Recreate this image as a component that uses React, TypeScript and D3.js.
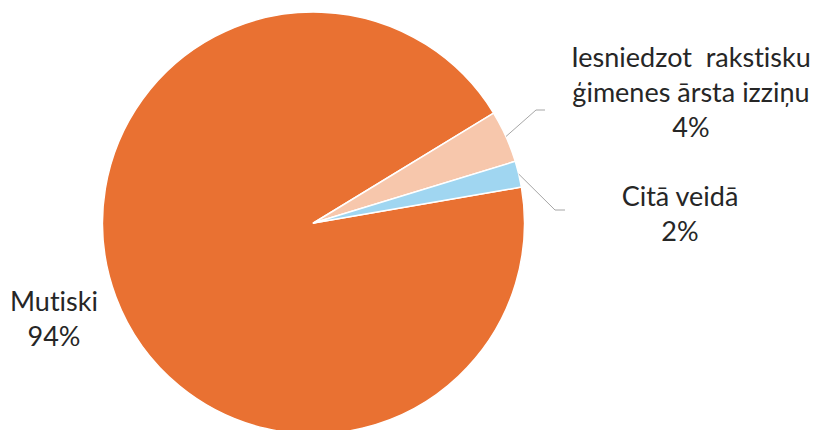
import React from "react";
import * as d3 from "d3";

const categories = ["Mutiski", "Iesniedzot  rakstisku|ģimenes ārsta izziņu", "Citā veidā"];
const values = [94, 4, 2];
const percentLabels = ["94%", "4%", "2%"];
const colors = ["#E97132", "#F7C7AC", "#A0D6F1"];

const W = 817;
const H = 430;
const cx = 313.5;
const cy = 223;
const R = 211;
const FONT = "Lato, 'Open Sans', sans-serif";
const FS = 27;
const LH = 35;

export default function App() {
  const data = categories.map((c, i) => ({ c, v: values[i], p: percentLabels[i], col: colors[i] }));
  const start = (80.2 * Math.PI) / 180;
  const pie = d3
    .pie<any>()
    .sort(null)
    .value((d) => d.v)
    .startAngle(start)
    .endAngle(start + 2 * Math.PI);
  const arcs = pie(data);
  const arc = d3.arc<any>().innerRadius(0).outerRadius(R);

  const labelPos = [
    { x: 54, y: 311 },
    { x: 691, y: 67 },
    { x: 680, y: 206 },
  ];
  const elbows = [null, { x: 536, y: 110, x2: 545 }, { x: 555, y: 210, x2: 565 }];

  return (
    <svg
      width={W}
      height={H}
      style={{ position: "absolute", left: 0, top: 0, display: "block", background: "#fff" }}
    >
      <g transform={`translate(${cx},${cy})`}>
        {arcs.map((a, i) => (
          <path key={i} d={arc(a) as string} fill={a.data.col} stroke="#fff" strokeWidth={1.5} strokeLinejoin="round" />
        ))}
      </g>
      {arcs.map((a, i) => {
        const e = elbows[i];
        if (!e) return null;
        const mid = (a.startAngle + a.endAngle) / 2;
        const sx = cx + R * Math.sin(mid);
        const sy = cy - R * Math.cos(mid);
        return (
          <polyline
            key={"l" + i}
            points={`${sx},${sy} ${e.x},${e.y} ${e.x2},${e.y}`}
            fill="none"
            stroke="#A6A6A6"
            strokeWidth={1}
          />
        );
      })}
      {data.map((d, i) => {
        const lines = [...d.c.split("|"), d.p];
        const pos = labelPos[i];
        return (
          <text
            key={"t" + i}
            x={pos.x}
            y={pos.y}
            textAnchor="middle"
            fontFamily={FONT}
            fontSize={FS}
            fill="#262626"
            style={{ whiteSpace: "pre", fontVariantLigatures: "none", fontFeatureSettings: "'liga' 0, 'clig' 0" }}
          >
            {lines.map((ln, j) => (
              <tspan key={j} x={pos.x} y={pos.y + j * LH} style={{ whiteSpace: "pre" }}>
                {ln}
              </tspan>
            ))}
          </text>
        );
      })}
    </svg>
  );
}
